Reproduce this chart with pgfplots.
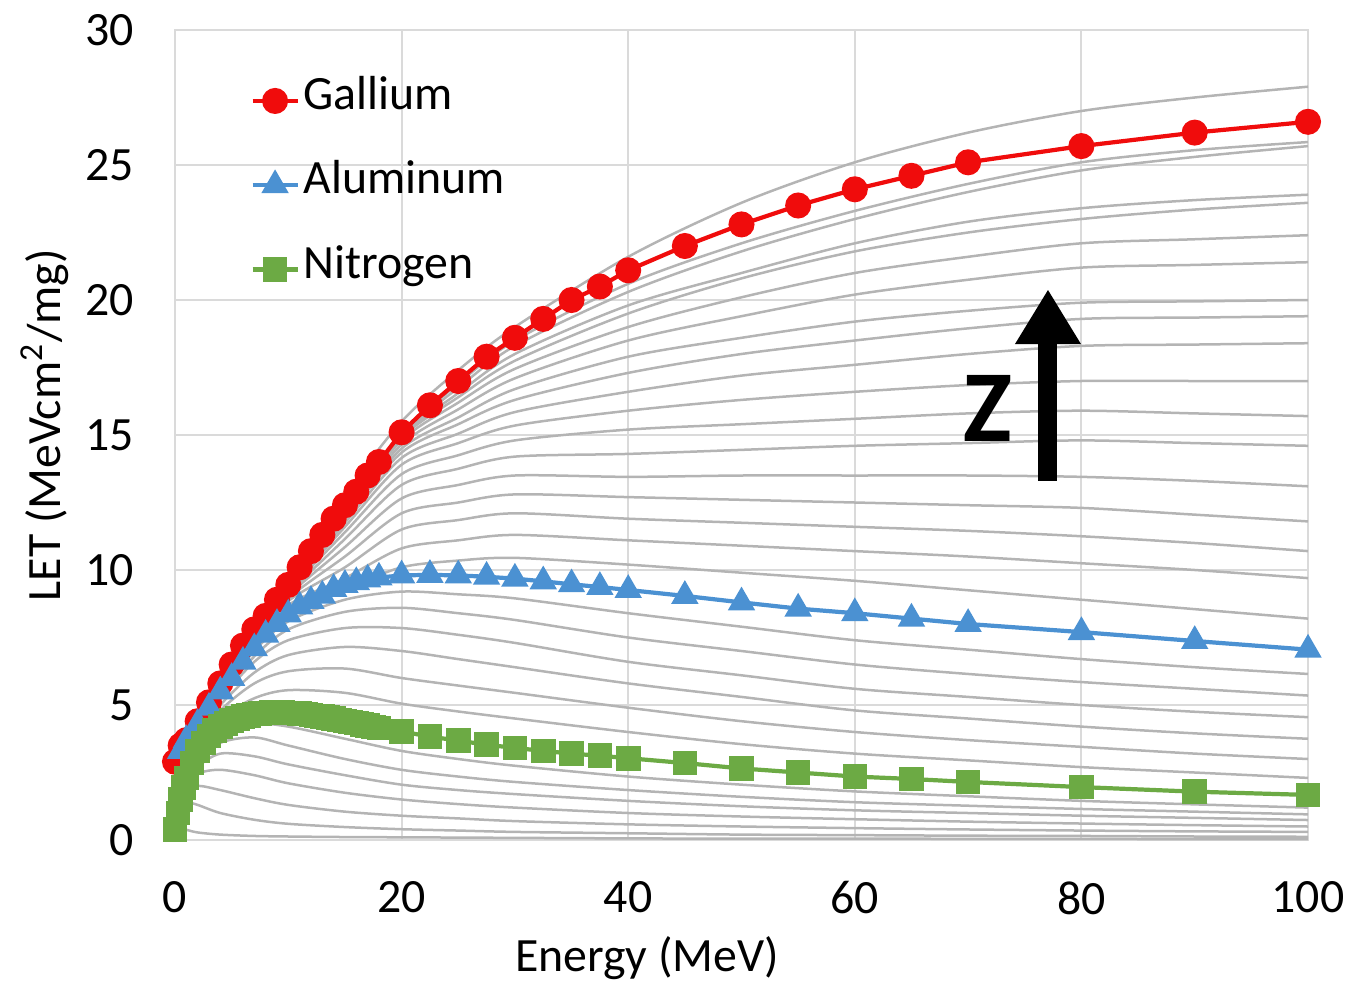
\documentclass[border=0pt]{standalone}
\usepackage{fontspec}
\setmainfont{Carlito}
\usepackage{pgfplots}
\usepackage{pgfplotstable}
\pgfplotsset{compat=1.18}
\usetikzlibrary{arrows.meta}
\definecolor{gacol}{RGB}{240,12,12}
\definecolor{alcol}{RGB}{75,145,210}
\definecolor{ncol}{RGB}{108,170,68}
\definecolor{curvegray}{RGB}{180,180,180}
\definecolor{gridgray}{RGB}{218,218,218}

% gray family of curves (one column per curve)
\pgfplotstableread{
E b1 b2 b3 b4 b5 b6 b7 m1 m2 m3 m4 m5 m6 h1 h2 h3 h4 h5 h6 h7 h8 h9 h10 h11 h12 h13 h14 h15 h16 h17 ge
0 0.20 0.30 0.30 0.30 0.30 0.35 0.40 0.45 0.50 0.55 0.60 0.65 0.70 1.8 1.8 1.8 1.8 1.8 1.8 1.8 1.8 1.8 1.8 1.8 1.8 1.8 1.8 1.8 1.8 1.8 2.0
0.5 0.45 1.20 1.20 1.20 1.30 1.40 1.50 1.70 1.90 2.10 2.30 2.50 2.70 3.1 3.1 3.1 3.1 3.1 3.1 3.1 3.1 3.1 3.1 3.1 3.1 3.1 3.1 3.1 3.1 3.1 3.4
1 0.38 1.40 1.70 1.90 2.00 2.20 2.30 2.50 2.70 2.90 3.10 3.30 3.50 3.7 3.7 3.7 3.7 3.7 3.7 3.7 3.7 3.7 3.7 3.7 3.7 3.7 3.7 3.7 3.7 3.7 3.9
2 0.28 1.30 2.00 2.45 2.70 2.90 3.10 3.50 3.70 3.85 4.00 4.10 4.20 4.35 4.35 4.35 4.35 4.35 4.35 4.35 4.35 4.35 4.35 4.35 4.35 4.35 4.35 4.35 4.35 4.35 4.6
4 0.20 1.00 1.85 2.60 3.20 3.60 3.90 4.50 4.80 5.00 5.20 5.30 5.40 5.6 5.6 5.6 5.6 5.6 5.7 5.7 5.7 5.7 5.7 5.7 5.8 5.8 5.8 5.8 5.8 5.8 6.0
7 0.15 0.75 1.55 2.40 3.10 3.80 4.30 5.25 5.80 6.20 6.60 6.80 7.00 7.30 7.35 7.40 7.45 7.50 7.55 7.60 7.62 7.65 7.68 7.70 7.72 7.74 7.76 7.78 7.80 7.82 8.0
10 0.13 0.60 1.30 2.10 2.80 3.50 4.20 5.55 6.25 6.85 7.40 7.80 8.10 8.55 8.70 8.85 8.95 9.05 9.12 9.20 9.25 9.30 9.33 9.36 9.38 9.40 9.42 9.44 9.46 9.48 9.7
15 0.11 0.48 1.05 1.75 2.40 3.00 3.75 5.45 6.35 7.15 7.85 8.45 8.90 9.3 9.7 10.1 10.5 10.85 11.15 11.4 11.6 11.75 11.9 12.0 12.1 12.2 12.25 12.3 12.35 12.4 12.8
20 0.10 0.40 0.90 1.50 2.05 2.60 3.30 5.05 6.00 7.00 7.85 8.60 9.20 10.1 10.8 11.5 12.1 12.65 13.15 13.55 13.9 14.15 14.35 14.5 14.65 14.8 14.9 14.95 15.0 15.05 15.5
25 0.09 0.35 0.80 1.33 1.85 2.35 3.00 4.76 5.72 6.70 7.60 8.40 9.10 10.35 11.1 11.85 12.5 13.15 13.75 14.25 14.7 15.05 15.4 15.65 15.95 16.2 16.4 16.55 16.75 16.9 17.4
30 0.08 0.30 0.70 1.20 1.70 2.15 2.75 4.50 5.45 6.40 7.30 8.15 8.95 10.45 11.3 12.1 12.8 13.5 14.2 14.8 15.35 15.85 16.3 16.7 17.1 17.45 17.75 18.0 18.3 18.5 19.0
40 0.06 0.25 0.58 1.00 1.45 1.85 2.35 4.00 4.90 5.80 6.60 7.50 8.40 10.2 11.1 11.9 12.7 13.45 14.3 15.2 15.9 16.6 17.3 17.9 18.5 19.0 19.5 19.8 20.3 20.6 21.6
50 0.05 0.20 0.50 0.87 1.25 1.60 2.05 3.55 4.40 5.30 6.10 7.00 7.90 9.9 10.9 11.75 12.6 13.5 14.45 15.4 16.3 17.2 18.0 18.6 19.4 20.1 20.8 21.0 21.8 22.1 23.6
60 0.05 0.18 0.44 0.77 1.10 1.40 1.80 3.20 4.00 4.80 5.60 6.50 7.40 9.6 10.7 11.6 12.5 13.5 14.6 15.6 16.6 17.6 18.5 19.2 20.2 21.0 21.8 22.1 23.0 23.3 25.1
70 0.045 0.16 0.39 0.68 1.00 1.27 1.62 2.95 3.70 4.50 5.30 6.15 7.05 9.25 10.5 11.45 12.4 13.5 14.7 15.8 16.85 18.0 18.95 19.6 20.75 21.6 22.5 22.9 24.0 24.3 26.2
80 0.04 0.15 0.35 0.61 0.90 1.15 1.45 2.70 3.45 4.20 5.00 5.85 6.70 8.9 10.25 11.25 12.3 13.45 14.8 15.9 17.0 18.3 19.3 19.9 21.2 22.1 23.0 23.4 24.8 25.1 27.0
90 0.035 0.13 0.32 0.55 0.82 1.05 1.32 2.50 3.20 3.95 4.75 5.60 6.40 8.55 10.0 11.0 12.05 13.3 14.7 15.8 17.0 18.35 19.35 19.95 21.3 22.25 23.35 23.7 25.3 25.55 27.5
100 0.03 0.12 0.30 0.50 0.74 0.95 1.20 2.30 3.00 3.75 4.55 5.35 6.15 8.2 9.7 10.7 11.8 13.1 14.6 15.7 17.0 18.4 19.4 20.0 21.4 22.4 23.6 23.9 25.7 25.85 27.9
}\graydata

\pgfplotstableread{
E L
0 2.9
0.5 3.5
1 3.7
2 4.4
3 5.1
4 5.8
5 6.5
6 7.2
7 7.8
8 8.3
9 8.9
10 9.45
11 10.1
12 10.7
13 11.3
14 11.9
15 12.4
16 12.9
17 13.5
18 14.0
20 15.1
22.5 16.1
25 17.0
27.5 17.9
30 18.6
32.5 19.3
35 20.0
37.5 20.5
40 21.1
45 22.0
50 22.8
55 23.5
60 24.1
65 24.6
70 25.1
80 25.7
90 26.2
100 26.6
}\gadata

\pgfplotstableread{
E L
0.5 3.3
1 3.7
2 4.3
3 4.9
4 5.5
5 6.0
6 6.6
7 7.1
8 7.6
9 8.0
10 8.35
11 8.65
12 8.85
13 9.05
14 9.3
15 9.45
16 9.55
17 9.65
18 9.72
20 9.8
22.5 9.82
25 9.8
27.5 9.75
30 9.68
32.5 9.58
35 9.47
37.5 9.37
40 9.26
45 9.04
50 8.8
55 8.57
60 8.4
65 8.2
70 8.0
80 7.7
90 7.37
100 7.05
}\aldata

\pgfplotstableread{
E L
0 0.40
0.25 1.00
0.5 1.50
0.75 1.95
1 2.30
1.5 2.85
2 3.30
2.5 3.60
3 3.85
3.5 4.05
4 4.20
4.5 4.32
5 4.42
5.5 4.50
6 4.57
6.5 4.62
7 4.66
7.5 4.69
8 4.71
8.5 4.72
9 4.72
9.5 4.72
10 4.71
10.5 4.70
11 4.68
11.5 4.66
12 4.63
12.5 4.60
13 4.57
13.5 4.53
14 4.49
14.5 4.45
15 4.41
15.5 4.37
16 4.33
16.5 4.28
17 4.24
17.5 4.19
18 4.15
20 4.02
22.5 3.83
25 3.68
27.5 3.53
30 3.41
32.5 3.30
35 3.20
37.5 3.12
40 3.03
45 2.85
50 2.65
55 2.50
60 2.35
65 2.26
70 2.15
80 1.96
90 1.79
100 1.67
}\ndata

\begin{document}
\begin{tikzpicture}
\begin{axis}[
  scale only axis,
  width=113.3mm, height=81mm,
  xmin=0, xmax=100, ymin=0, ymax=30,
  xtick={0,20,...,100}, ytick={0,5,...,30},
  xticklabel={\pgfmathprintnumber[assume math mode=true]{\tick}},
  yticklabel={\pgfmathprintnumber[assume math mode=true]{\tick}},
  /pgf/number format/assume math mode=true,
  grid=major,
  major grid style={gridgray, line width=0.2mm},
  axis line style={gridgray, line width=0.2mm},
  major tick length=0pt,
  tick label style={font=\fontsize{13.6}{16}\selectfont, text=black},
  yticklabel style={xshift=-2.9mm},
  xticklabel style={yshift=-2.9mm},
  xlabel={Energy (MeV)},
  ylabel={LET (MeVcm\textsuperscript{2}/mg)},
  label style={font=\fontsize{13.6}{16}\selectfont},
  xlabel style={at={(axis description cs:0.4166,-0.146)}, anchor=center},
  ylabel style={at={(axis description cs:-0.115,0.512)}, anchor=center},
  clip=false,
  legend style={at={(axis description cs:0.066,0.948)}, anchor=north west,
    draw=none, fill=none, inner sep=0pt, row sep=2.8mm,
    font=\fontsize{13.6}{16}\selectfont,
    nodes={inner xsep=0.4mm, inner ysep=0.3em, text height=0.75em, text depth=0.25em}},
  legend cell align=left,
  legend image code/.code={\draw[mark repeat=2,mark phase=2] plot coordinates {(0mm,0mm) (2.25mm,0mm) (4.5mm,0mm)};},
]
\pgfplotsinvokeforeach{b1,b2,b3,b4,b5,b6,b7,m1,m2,m3,m4,m5,m6,h1,h2,h3,h4,h5,h6,h7,h8,h9,h10,h11,h12,h13,h14,h15,h16,h17,ge}{
  \addplot[curvegray, line width=0.25mm, smooth, no markers, forget plot] table[x=E, y=#1] {\graydata};
}
\addplot[gacol, line width=1.2pt, mark=*, mark size=3.1pt, mark options={fill=gacol, draw=gacol}] table[x=E, y=L] {\gadata};
\addlegendentry{Gallium}
\addplot[alcol, line width=1.2pt, mark=triangle*, mark size=3.3pt, mark options={fill=alcol, draw=alcol}] table[x=E, y=L] {\aldata};
\addlegendentry{Aluminum}
\addplot[ncol, line width=1.2pt, mark=square*, mark size=2.9pt, mark options={fill=ncol, draw=ncol}] table[x=E, y=L] {\ndata};
\addlegendentry{Nitrogen}
\draw[black, line width=1.9mm, -{Triangle[width=6.2mm,length=5.5mm]}] (axis cs:77.05,13.3) -- (axis cs:77.05,20.4);
\node[font=\fontsize{29}{32}\selectfont\bfseries, text=black] at (axis cs:71.7,16.0) {Z};
\end{axis}
\pgfresetboundingbox
\useasboundingbox (-17.5mm,-14.1mm) rectangle (119.7mm,84mm);
\end{tikzpicture}
\end{document}
